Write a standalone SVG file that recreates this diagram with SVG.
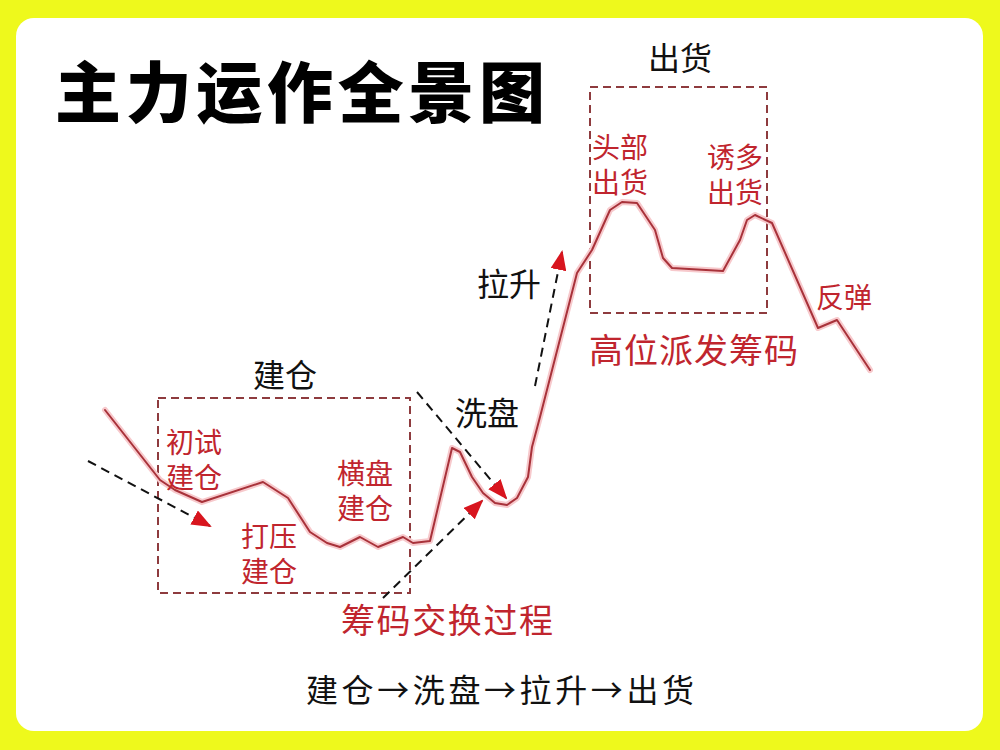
<svg xmlns="http://www.w3.org/2000/svg" width="1000" height="750" viewBox="0 0 1000 750">
<defs>
<style>
.t{font-family:"Noto Sans CJK SC","Noto Sans",sans-serif;}
.blk{fill:#111;font-size:32px;}
.red{fill:#C0252E;font-size:28px;}
.redL{fill:#C0252E;font-size:34px;}
.box{fill:none;stroke:#8E3B3E;stroke-width:2;stroke-dasharray:8 5;}
.dash{fill:none;stroke:#111;stroke-width:2;stroke-dasharray:9 6;}
.glow{fill:none;stroke:#F7C9CC;stroke-width:6;stroke-linejoin:round;stroke-linecap:round;}
.price{fill:none;stroke:#A8323A;stroke-width:2;stroke-linejoin:round;stroke-linecap:round;}
</style>
<marker id="ah" viewBox="0 0 20 16" refX="18" refY="8" markerWidth="20" markerHeight="16" markerUnits="userSpaceOnUse" orient="auto">
<path d="M0,0 L20,8 L0,16 Z" fill="#D8151E"/>
</marker>
</defs>
<rect width="1000" height="750" fill="#EEF91C"/>
<rect x="16" y="18" width="967" height="713" rx="18" fill="#FFFFFF"/>

<g id="title">
<text class="t" x="55" y="117" font-size="66" font-weight="900" fill="#000" textLength="490" lengthAdjust="spacing">主力运作全景图</text>
</g>

<g id="boxes">
<rect id="box-build" class="box" x="158" y="398" width="252" height="195"/>
<rect id="box-ship" class="box" x="590" y="87" width="177" height="226"/>
</g>

<g id="price-line">
<polyline class="glow" points="105,410 160,480 175,490 202,502 263,482 288,498 310,532 327,543 340,547 360,537 378,547 403,537 413,543 430,541 452,448 460,452 472,477 483,493 495,503 507,505 517,498 528,477 532,447 540,417 577,273 592,250 610,210 622,202 637,203 655,230 663,258 672,268 723,271 740,240 747,220 755,215 772,223 818,328 837,320 870,370"/>
<polyline class="price" points="105,410 160,480 175,490 202,502 263,482 288,498 310,532 327,543 340,547 360,537 378,547 403,537 413,543 430,541 452,448 460,452 472,477 483,493 495,503 507,505 517,498 528,477 532,447 540,417 577,273 592,250 610,210 622,202 637,203 655,230 663,258 672,268 723,271 740,240 747,220 755,215 772,223 818,328 837,320 870,370"/>
</g>

<g id="connectors">
<line class="dash" x1="88" y1="461" x2="210" y2="526" marker-end="url(#ah)"/>
<line class="dash" x1="383" y1="598" x2="482" y2="501" marker-end="url(#ah)"/>
<line class="dash" x1="417" y1="392" x2="506" y2="498" marker-end="url(#ah)"/>
<line class="dash" x1="535" y1="386" x2="562" y2="252" marker-end="url(#ah)"/>
</g>

<g id="label-build">
<text class="t blk" x="253" y="387">建仓</text>
</g>
<g id="label-ship">
<text class="t blk" x="648" y="70">出货</text>
</g>
<g id="label-rise">
<text class="t blk" x="477" y="296">拉升</text>
</g>
<g id="label-wash">
<text class="t blk" x="455" y="425">洗盘</text>
</g>
<g id="label-flow">
<text class="t blk" x="306" y="702" font-size="33" textLength="388" lengthAdjust="spacing">建仓→洗盘→拉升→出货</text>
</g>

<g id="label-trial">
<text class="t red" x="166" y="453">初试<tspan x="166" dy="35">建仓</tspan></text>
</g>
<g id="label-press">
<text class="t red" x="241" y="547">打压<tspan x="241" dy="35">建仓</tspan></text>
</g>
<g id="label-flat">
<text class="t red" x="337" y="484">横盘<tspan x="337" dy="35">建仓</tspan></text>
</g>
<g id="label-head">
<text class="t red" x="592" y="158">头部<tspan x="592" dy="35">出货</tspan></text>
</g>
<g id="label-lure">
<text class="t red" x="707" y="168">诱多<tspan x="707" dy="35">出货</tspan></text>
</g>
<g id="label-rebound">
<text class="t red" x="816" y="308">反弹</text>
</g>
<g id="label-high">
<text class="t redL" x="589" y="363" textLength="209" lengthAdjust="spacing">高位派发筹码</text>
</g>
<g id="label-exchange">
<text class="t redL" x="341" y="633" textLength="212" lengthAdjust="spacing">筹码交换过程</text>
</g>
</svg>
